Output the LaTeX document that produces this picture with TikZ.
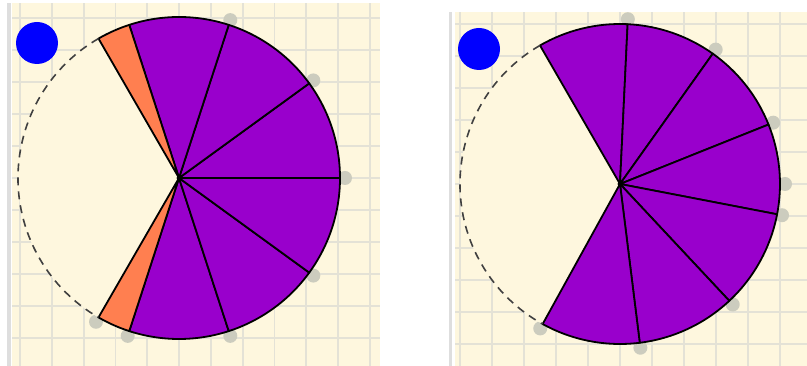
\documentclass[tikz,border=0pt]{standalone}

\definecolor{paper}{RGB}{254,247,222}
\definecolor{ruling}{RGB}{228,226,214}
\definecolor{framegray}{RGB}{222,222,222}
\definecolor{piecepurple}{RGB}{153,0,204}
\definecolor{sliverorange}{RGB}{255,127,80}
\definecolor{handlegray}{RGB}{204,204,190}

\tikzset{
	paperline/.style={ruling, line width=1.8pt},
	frameline/.style={framegray, line width=3.5pt},
	piece/.style={fill=piecepurple, draw=black, line width=1.8pt, line join=round},
	sliver/.style={fill=sliverorange, draw=black, line width=1.8pt, line join=round},
	rim/.style={draw=black!75, line width=1.6pt, dash pattern=on 8pt off 6pt},
	handle/.style={fill=handlegray},
	token/.style={fill=blue}
}

\begin{document}
\begin{tikzpicture}[x=1pt, y=1pt]
	\useasboundingbox (0,0) rectangle (807,366);
	% Paper panels and rulings:
	\fill[paper] (12,0) rectangle (380,363);
	\fill[paper] (455,0) rectangle (807,354);
	\draw[frameline] (9,0) -- (9,363);
	\draw[frameline] (450.5,0) -- (450.5,354);
	\begin{scope}
		\clip (12,0) rectangle (380,363);
		\foreach \i in {0,...,11} \draw[paperline] ({20+31.8*\i},0) -- ++(0,363);
		\foreach \j in {0,...,10} \draw[paperline] (12,{28+32*\j}) -- ++(368,0);
	\end{scope}
	\begin{scope}
		\clip (455,0) rectangle (807,354);
		\foreach \i in {0,...,10} \draw[paperline] ({460+32*\i},0) -- ++(0,354);
		\foreach \j in {0,...,10} \draw[paperline] (455,{22+32*\j}) -- ++(352,0);
	\end{scope}
	% Left pie: six tenths and two thirtieths
	\coordinate (cL) at (179,188);
	\fill[token] (37,323) circle[radius=21];
	\foreach \a in {72,36,0,-36,-72,-108,-120} \fill[handle] (cL) ++(\a:166) circle[radius=7];
	\fill[paper] (cL) circle[radius=161];
	\foreach \a in {-108,-72,...,72} \draw[piece] (cL) -- ++(\a:161) arc[start angle=\a, delta angle=36, radius=161] -- cycle;
	\draw[sliver] (cL) -- ++(108:161) arc[start angle=108, end angle=120, radius=161] -- cycle;
	\draw[sliver] (cL) -- ++(-120:161) arc[start angle=-120, end angle=-108, radius=161] -- cycle;
	\draw[rim] (cL) ++(120:161) arc[start angle=120, end angle=240, radius=161];
	\fill (cL) circle[radius=2.4];
	% Right pie: four elevenths and three tenths
	\coordinate (cR) at (620,182);
	\fill[token] (479,317) circle[radius=21];
	\foreach \a in {87.27,54.55,21.82,0,-10.91,-46.91,-82.91,-118.91} \fill[handle] (cR) ++(\a:165) circle[radius=7];
	\fill[paper] (cR) circle[radius=160];
	\foreach \a/\b in {120/87.27, 87.27/54.55, 54.55/21.82, 21.82/-10.91, -10.91/-46.91, -46.91/-82.91, -82.91/-118.91}
		\draw[piece] (cR) -- ++(\a:160) arc[start angle=\a, end angle=\b, radius=160] -- cycle;
	\draw[rim] (cR) ++(120:160) arc[start angle=120, end angle=241.09, radius=160];
	\fill (cR) circle[radius=2.4];
\end{tikzpicture}
\end{document}
